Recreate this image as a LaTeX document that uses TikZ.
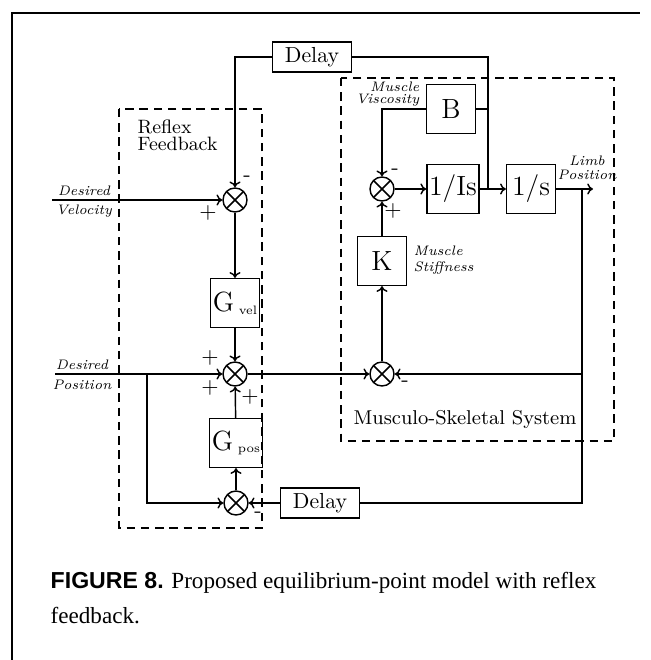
\documentclass[tikz,border=0pt]{standalone}
\usepackage{fontspec}
\newfontfamily\capsans{Liberation Sans}
\newfontfamily\capserif{Liberation Serif}
\usetikzlibrary{arrows.meta}

\newcommand{\gsub}[1]{G\,\raisebox{-1.2pt}{\fontsize{5.5}{6}\selectfont #1}}

\begin{document}
\begin{tikzpicture}[x=0.45pt,y=-0.45pt,line width=0.65pt,>={To[length=2.6pt,width=5pt]},
    block/.style={draw,minimum width=22pt,minimum height=22pt,inner sep=1pt,font=\fontsize{12.5}{13}\selectfont},
    delaybox/.style={draw,minimum width=35.5pt,minimum height=13.5pt,inner sep=1pt,font=\fontsize{9.8}{11}\selectfont},
    summer/.style={circle,draw,minimum size=10.8pt,inner sep=0pt,
        path picture={\draw[shift={(path picture bounding box.center)}]
            (-3.8pt,-3.8pt) -- (3.8pt,3.8pt) (-3.8pt,3.8pt) -- (3.8pt,-3.8pt);}},
    lbl/.style={font=\fontsize{6.2}{7}\selectfont\itshape,inner sep=0pt},
    sgn/.style={font=\fontsize{10}{10}\selectfont,inner sep=0pt},
    grp/.style={draw,dash pattern=on 3.8pt off 2.6pt},
    title/.style={font=\fontsize{8.7}{7.7}\selectfont,inner sep=0pt}]
    \path[fill=white,use as bounding box] (0,0) rectangle (651,660);
    \draw[line width=0.8pt] (12,660) -- (12,13) -- (640,13);

    % blocks
    \node[delaybox] (delayT) at (312,57) {Delay};
    \node[block] (B) at (451,109) {B};
    \node[block] (Is) at (453,189) {1/Is};
    \node[block] (s) at (531,189) {1/s};
    \node[block] (K) at (382,261) {K};
    \node[block] (Gvel) at (235,303) {\gsub{vel}};
    \node[block] (Gpos) at (236,443) {\gsub{pos}};
    \node[delaybox] (delayB) at (320,503) {Delay};

    % summing junctions
    \node[summer] (sum1) at (235,200) {};
    \node[summer] (sum2) at (382,189) {};
    \node[summer] (sum3) at (235,374) {};
    \node[summer] (sum4) at (382,374) {};
    \node[summer] (sum5) at (236,503) {};

    \coordinate (jv) at (488,189);
    \coordinate (jp) at (582,189);
    \coordinate (limb) at (593,189);
    \coordinate (dv) at (52,200);
    \coordinate (dp) at (55,374);
    \coordinate (jd) at (147,374);

    % groups
    \draw[grp] (119,109) rectangle (262,528);
    \draw[grp] (341,78) rectangle (614,441);
    \node[title,align=left,anchor=north west] (reflex) at (137,119) {Reflex\\Feedback};
    \node[title,font=\fontsize{9}{10}\selectfont] (mss) at (465,419) {Musculo-Skeletal System};

    % connections
    \draw[->] (delayT.west) -| (sum1);
    \draw (jv) |- (delayT.east);
    \draw (B.east) -- (B.east -| jv);
    \draw[->] (B.west) -| (sum2);
    \draw[->] (sum2) -- (Is);
    \draw[->] (Is) -- (s);
    \draw[->] (s) -- (limb);
    \draw (jp) |- (delayB.east);
    \draw[->] (jp |- sum4) -- (sum4);
    \draw[->] (delayB) -- (sum5);
    \draw[->] (dv) -- (sum1);
    \draw[->] (sum1) -- (Gvel);
    \draw[->] (Gvel) -- (sum3);
    \draw[->] (dp) -- (sum3);
    \draw[->] (jd) |- (sum5);
    \draw[->] (sum5) -- (Gpos);
    \draw[->] (Gpos) -- (sum3);
    \draw[->] (sum3) -- (sum4);
    \draw[->] (sum4) -- (K);
    \draw[->] (K) -- (sum2);

    % labels
    \node[lbl,align=center,font=\fontsize{6.2}{8.5}\selectfont\itshape] (vlbl) at (84,202) {Desired\\Velocity};
    \node[lbl,align=center,font=\fontsize{6.2}{9}\selectfont\itshape] (plbl) at (82,375) {Desired\\Position};
    \node[lbl,align=right,anchor=east,font=\fontsize{6.2}{5.2}\selectfont\itshape] (bvis) at (420,94) {Muscle\\Viscosity};
    \node[lbl,align=left,anchor=west,font=\fontsize{6.2}{7.2}\selectfont\itshape] (kstf) at (413,260) {Muscle\\Stiffness};
    \node[lbl,align=center,font=\fontsize{6.2}{6.4}\selectfont\itshape] (limblbl) at (587,168) {Limb\\Position};

    % signs
    \node[sgn] (m1) at (247,179) {-};
    \node[sgn] (p1) at (208,213) {+};
    \node[sgn] (m2) at (395,172) {-};
    \node[sgn] (p2) at (393,211) {+};
    \node[sgn] (p3a) at (210,358) {+};
    \node[sgn] (p3b) at (210,388) {+};
    \node[sgn] (p3c) at (250,397) {+};
    \node[sgn] (m4) at (405,384) {-};
    \node[sgn] (m5) at (258,515) {-};

    % caption
    \node[anchor=base west,inner sep=0pt,font=\capserif\fontsize{10.4}{15}\selectfont] (cap1) at (50,588)
        {{\capsans\bfseries FIGURE 8.} Proposed equilibrium-point model with reflex};
    \node[anchor=base west,inner sep=0pt,font=\capserif\fontsize{10.4}{15}\selectfont] (cap2) at (50,623) {feedback.};
\end{tikzpicture}
\end{document}
